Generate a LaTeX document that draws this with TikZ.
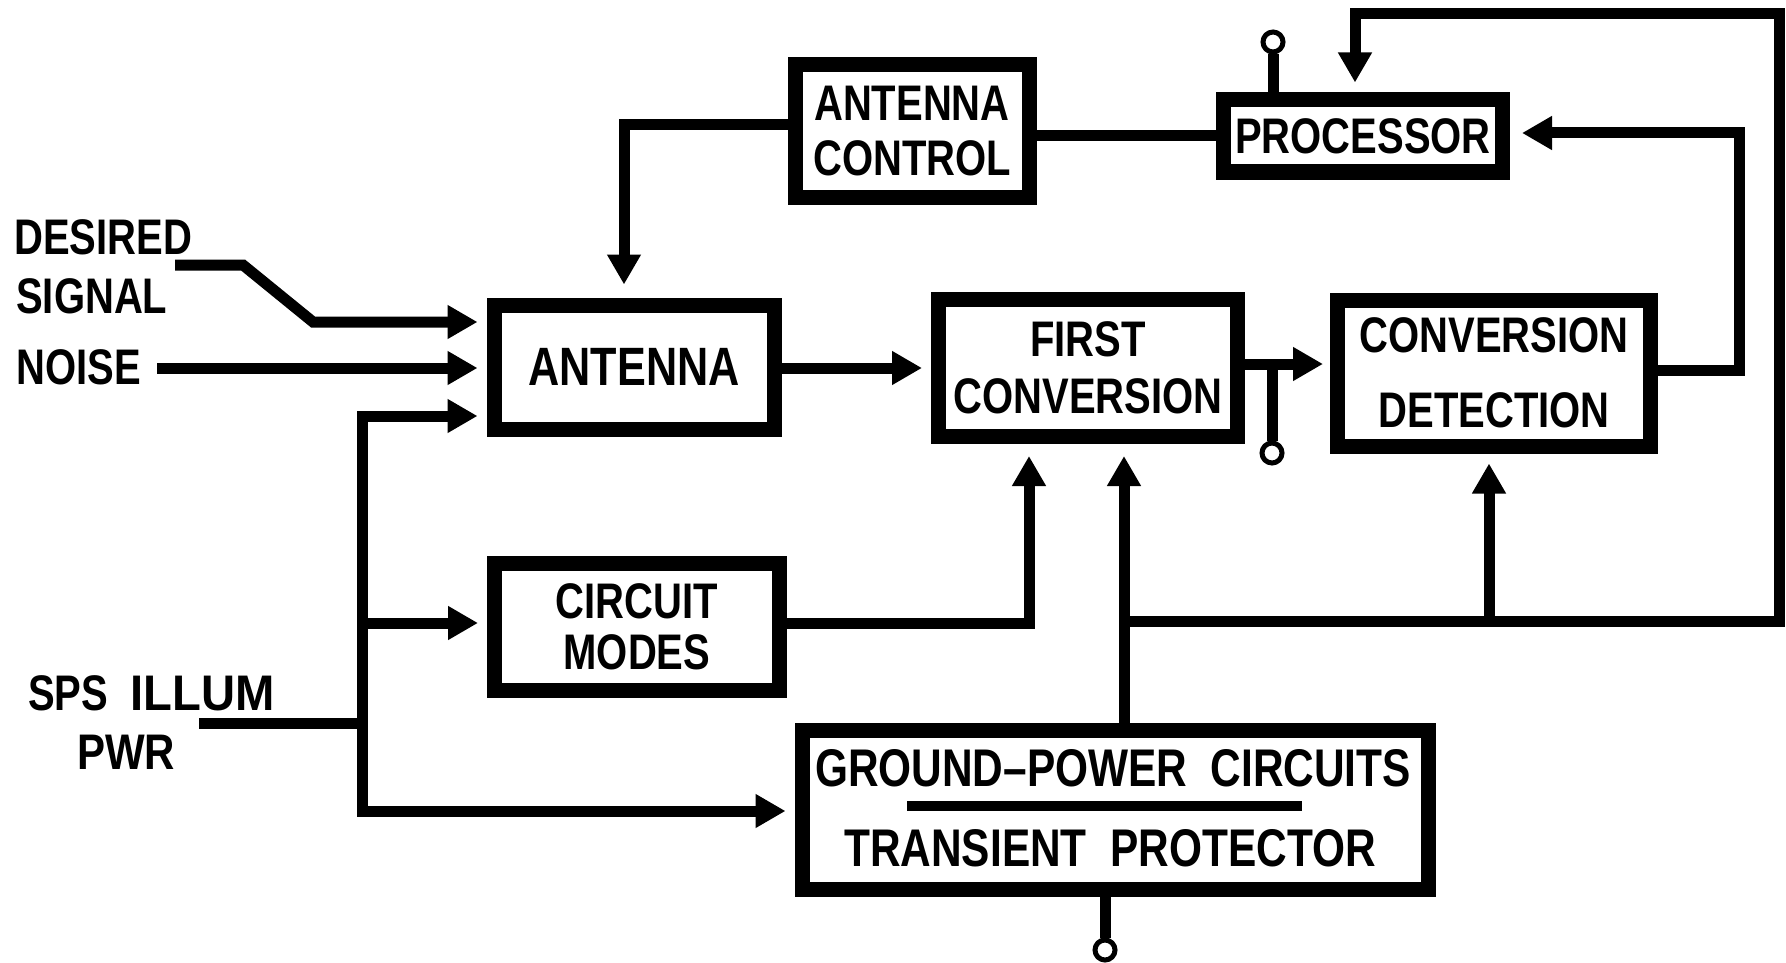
\documentclass[tikz,border=0pt]{standalone}
\usepackage{fontspec}
\usepackage{graphicx}
\newfontfamily\cf[FakeStretch=0.8]{Liberation Sans}
\usetikzlibrary{arrows.meta}
\begin{document}
\begin{tikzpicture}[x=1pt,y=-1pt,
  box/.style={draw, line width=15pt, align=center, inner sep=0pt, font=\cf\bfseries\fontsize{50}{56}\selectfont},
  conn/.style={line width=11pt},
  arr/.style={line width=11pt, -{Triangle[length=30pt,width=32pt]}},
  lbl/.style={font=\cf\bfseries\fontsize{50}{56}\selectfont, inner sep=0pt},
  gplbl/.style={font=\cf\bfseries\fontsize{53}{56}\selectfont, inner sep=0pt},
  term/.style={circle, draw, line width=5pt, minimum size=20pt, inner sep=0pt, fill=white}]
\useasboundingbox (0,0) rectangle (1786,963);
\fill[white] (0,0) rectangle (1786,963);

% boxes
\node[box, minimum width=234pt, minimum height=132pt] (ac) at (912,131) {ANTENNA\\[-1pt]CONTROL};
\node[box, minimum width=279pt, minimum height=72pt] (proc) at (1363,136) {PROCESSOR};
\node[box, minimum width=280pt, minimum height=124pt, font=\cf\bfseries\fontsize{54}{56}\selectfont] (ant) at (634,367) {ANTENNA};
\node[box, minimum width=299pt, minimum height=137pt] (fc) at (1088,368) {FIRST\\[1pt]CONVERSION};
\node[box, minimum width=313pt, minimum height=146pt] (cd) at (1494,373) {CONVERSION\\[19pt]DETECTION};
\node[box, minimum width=285pt, minimum height=127pt] (cm) at (637,627) {CIRCUIT\\[-5pt]MODES};
\node[box, minimum width=626pt, minimum height=159pt] (gp) at (1115,810) {};
\node[gplbl] (gp1) at (1113,768) {GROUND–POWER\ \ CIRCUITS};
\node[gplbl] (gp2) at (1110,848) {TRANSIENT\ \ PROTECTOR};
\draw[line width=10pt] (907,806) -- (1302,806);

% labels
\node[lbl, anchor=west] (des) at (14,237) {DESIRED};
\node[lbl, anchor=west] (sig) at (16,296) {SIGNAL};
\node[lbl, anchor=west] (noi) at (16,367) {NOISE};
\node[lbl, anchor=west] (sps) at (28,693) {SPS\ \ \scalebox{1.18}[1]{ILLUM}};
\node[lbl, anchor=west] (pwr) at (77,752) {\scalebox{1.05}[1]{PWR}};

% terminals
\node[term] (t1) at (1273,42) {};
\node[term] (t2) at (1272,453) {};
\node[term] (t3) at (1105,950) {};
\draw[conn] (proc.north -| t1) -- (t1);
\draw[conn] (1272,364) -- (t2);
\draw[conn] (gp.south -| t3) -- (t3);

% inputs
\draw[arr, shorten >=9pt] (175,265) -- (243,265) -- (313,322) -- (ant.west |- 0,322);
\draw[arr, shorten >=9pt] (157,368) -- (ant.west |- 0,368);

% SPS bus
\draw[conn] (199,723) -- (362,723);
\draw[arr, shorten >=9pt] (362,723) -- (362,416) -- (ant.west |- 0,416);
\draw[arr, shorten >=9pt] (362,723) -- (362,811) -- (gp.west |- 0,811);
\draw[arr, shorten >=9pt] (362,623) -- (cm.west |- 0,623);

% antenna control
\draw[arr, shorten >=13pt] (ac.west |- 0,125) -- (624,125) -- (ant.north -| 624,0);
\draw[conn] (ac.east |- 0,136) -- (proc.west |- 0,136);

% main chain
\draw[arr, shorten >=9pt] (ant.east |- 0,368) -- (fc.west |- 0,368);
\draw[arr, shorten >=7pt] (fc.east |- 0,364) -- (cd.west |- 0,364);
\draw[arr, shorten >=12pt] (cd.east |- 0,370) -- (1739,370) -- (1739,133) -- (proc.east |- 0,133);

% circuit modes to first conversion
\draw[arr, shorten >=12pt] (cm.east |- 0,623) -- (1029,623) -- (fc.south -| 1029,0);

% ground power distribution
\draw[arr, shorten >=12pt] (gp.north -| 1124,0) -- (fc.south -| 1124,0);
\draw[arr, shorten >=10pt] (1124,621) -- (1779,621) -- (1779,14) -- (1355,14) -- (proc.north -| 1355,0);
\draw[arr, shorten >=10pt] (1489,621) -- (cd.south -| 1489,0);
\end{tikzpicture}
\end{document}
